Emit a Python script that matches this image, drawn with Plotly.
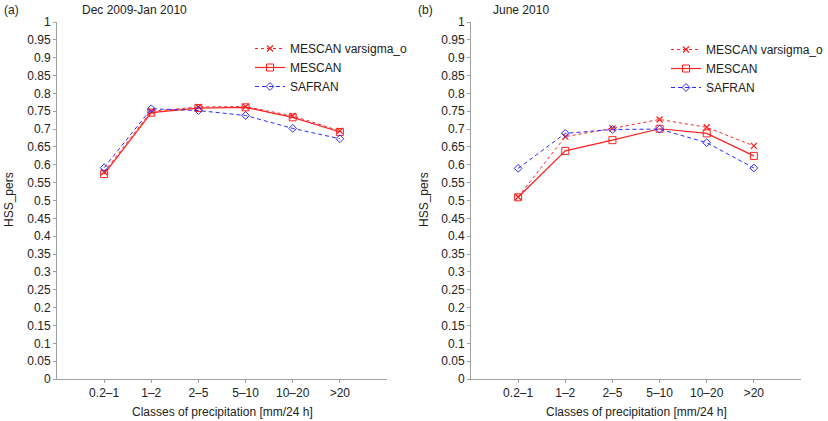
import plotly.graph_objects as go

classes = ["0.2\u20131", "1\u20132", "2\u20135", "5\u201310", "10\u201320", ">20"]

# (a) Dec 2009-Jan 2010
winter_varsigma = [0.580, 0.750, 0.762, 0.763, 0.737, 0.695]
winter_mescan = [0.574, 0.746, 0.759, 0.761, 0.733, 0.692]
winter_safran = [0.592, 0.757, 0.752, 0.738, 0.702, 0.673]

# (b) June 2010
june_varsigma = [0.510, 0.679, 0.702, 0.727, 0.705, 0.653]
june_mescan = [0.509, 0.639, 0.669, 0.701, 0.688, 0.625]
june_safran = [0.590, 0.688, 0.699, 0.700, 0.662, 0.591]

ytick_vals = [i * 0.05 for i in range(21)]
ytick_text = ["0", "0.05", "0.1", "0.15", "0.2", "0.25", "0.3", "0.35", "0.4", "0.45",
              "0.5", "0.55", "0.6", "0.65", "0.7", "0.75", "0.8", "0.85", "0.9", "0.95", "1"]

font = "Liberation Sans, Arial, sans-serif"
red = "#ff2020"
blue = "#2a2aff"
axis_grey = "#a0a0a0"

fig = go.Figure()


def add_panel(vs, me, sa, xa, ya, leg):
    fig.add_trace(go.Scatter(x=classes, y=vs, name="MESCAN varsigma_o", mode="lines+markers",
                             line=dict(color=red, width=1, dash="dot"),
                             marker=dict(symbol="x-thin", size=6, line=dict(color=red, width=1.3)),
                             xaxis=xa, yaxis=ya, legend=leg))
    fig.add_trace(go.Scatter(x=classes, y=me, name="MESCAN", mode="lines+markers",
                             line=dict(color=red, width=1.2),
                             marker=dict(symbol="square-open", size=7, color=red, line=dict(width=1)),
                             xaxis=xa, yaxis=ya, legend=leg))
    fig.add_trace(go.Scatter(x=classes, y=sa, name="SAFRAN", mode="lines+markers",
                             line=dict(color=blue, width=1, dash="4px,3px"),
                             marker=dict(symbol="diamond-open", size=6, color=blue, line=dict(width=1)),
                             xaxis=xa, yaxis=ya, legend=leg))


add_panel(winter_varsigma, winter_mescan, winter_safran, "x", "y", "legend")
add_panel(june_varsigma, june_mescan, june_safran, "x2", "y2", "legend2")

xcommon = dict(type="category", range=[-1, 6], showline=True, linecolor=axis_grey, linewidth=1,
               ticks="outside", ticklen=3, tickcolor=axis_grey, showgrid=False, zeroline=False,
               automargin=False, tickfont=dict(size=12, color="#222"))
ycommon = dict(range=[0, 1], tickvals=ytick_vals, ticktext=ytick_text, showline=True,
               linecolor=axis_grey, linewidth=1, ticks="outside", ticklen=3, tickcolor=axis_grey,
               showgrid=False, zeroline=False, automargin=False, tickfont=dict(size=12, color="#222"))

fig.update_layout(
    width=828, height=421,
    margin=dict(l=0, r=0, t=0, b=0, autoexpand=False),
    paper_bgcolor="white", plot_bgcolor="white",
    font=dict(family=font, color="#222"),
    xaxis=dict(domain=[57 / 828, 387 / 828], anchor="y", **xcommon),
    yaxis=dict(domain=[1 - 379 / 421, 1 - 22 / 421], anchor="x", **ycommon),
    xaxis2=dict(domain=[471 / 828, 801 / 828], anchor="y2", **xcommon),
    yaxis2=dict(domain=[1 - 379 / 421, 1 - 22 / 421], anchor="x2", **ycommon),
    legend=dict(x=250 / 828, y=1 - 34 / 421, xanchor="left", yanchor="top",
                font=dict(size=12, color="#222"), bgcolor="rgba(0,0,0,0)",
                tracegroupgap=0, itemwidth=30),
    legend2=dict(x=666 / 828, y=1 - 35 / 421, xanchor="left", yanchor="top",
                 font=dict(size=12, color="#222"), bgcolor="rgba(0,0,0,0)",
                 tracegroupgap=0, itemwidth=30),
)

labels = [
    dict(x=2 / 828, y=1 - 10 / 421, text="(a)", xanchor="left"),
    dict(x=80 / 828, y=1 - 10 / 421, text="Dec 2009-Jan 2010", xanchor="left"),
    dict(x=416 / 828, y=1 - 10 / 421, text="(b)", xanchor="left"),
    dict(x=491 / 828, y=1 - 10 / 421, text="June 2010", xanchor="left"),
    dict(x=222 / 828, y=1 - 412 / 421, text="Classes of precipitation [mm/24 h]", xanchor="center"),
    dict(x=636 / 828, y=1 - 412 / 421, text="Classes of precipitation [mm/24 h]", xanchor="center"),
    dict(x=9 / 828, y=1 - 200 / 421, text="HSS_pers", xanchor="center", textangle=-90),
    dict(x=424 / 828, y=1 - 200 / 421, text="HSS_pers", xanchor="center", textangle=-90),
]
for a in labels:
    fig.add_annotation(xref="paper", yref="paper", yanchor="middle", showarrow=False,
                       font=dict(size=12, color="#222", family=font), **a)

# page body has a default 8px margin, drop it so the figure fills the window
fig.write_html("out.html", config={"displayModeBar": False},
               post_script="document.body.style.margin='0';")
